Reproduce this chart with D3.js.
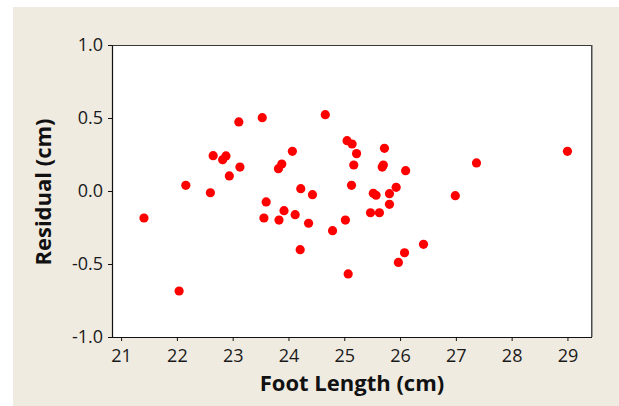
<!DOCTYPE html>
<html>
<head>
<meta charset="utf-8">
<script src="https://cdn.jsdelivr.net/npm/d3@7"></script>
<style>
  html, body { margin: 0; padding: 0; background: #ffffff; }
  svg { display: block; }
  .tick text { font-family: "Open Sans", sans-serif; font-size: 18px; fill: #1a1a1a; }
  .axis-title { font-family: "Open Sans", sans-serif; font-weight: 700; font-size: 22px; fill: #111; }
</style>
</head>
<body>
<svg id="chart" width="619" height="406"></svg>
<script>
// Foot length (cm) vs residual (cm)
const footLength = [
  21.41, 22.04, 22.16, 22.60, 22.65, 22.82, 22.88, 22.94, 23.11, 23.13,
  23.53, 23.56, 23.60, 23.82, 23.83, 23.88, 23.92, 24.07, 24.12, 24.21,
  24.22, 24.36, 24.43, 24.66, 24.79, 25.02, 25.05, 25.07, 25.13, 25.14,
  25.17, 25.22, 25.47, 25.52, 25.57, 25.63, 25.68, 25.70, 25.72, 25.81,
  25.81, 25.93, 25.97, 26.08, 26.10, 26.42, 26.99, 27.37, 29.00
];
const residual = [
  -0.185, -0.685, 0.039, -0.012, 0.242, 0.214, 0.240, 0.103, 0.473, 0.164,
  0.502, -0.185, -0.075, 0.153, -0.199, 0.185, -0.135, 0.272, -0.162, -0.402,
  0.016, -0.221, -0.025, 0.523, -0.272, -0.199, 0.345, -0.568, 0.039, 0.322,
  0.178, 0.256, -0.149, -0.016, -0.029, -0.149, 0.164, 0.178, 0.292, -0.018,
  -0.091, 0.025, -0.489, -0.423, 0.139, -0.365, -0.032, 0.192, 0.272
];
const xTicks = [21, 22, 23, 24, 25, 26, 27, 28, 29];
const yTicks = [-1.0, -0.5, 0.0, 0.5, 1.0];
const yTickLabels = ["-1.0", "-0.5", "0.0", "0.5", "1.0"];
const xLabel = "Foot Length (cm)";
const yLabel = "Residual (cm)";

const svg = d3.select("#chart");
const W = 619, H = 406;
const plot = { left: 112, right: 592, top: 45, bottom: 337 };

// panel background
svg.append("rect").attr("x", 13).attr("y", 7).attr("width", W - 13).attr("height", H - 7)
  .attr("fill", "#efebe1");

const x = d3.scaleLinear().domain([20.837, 29.44]).range([plot.left, plot.right]);
const y = d3.scaleLinear().domain([-1, 1]).range([plot.bottom, plot.top]);

// data region
svg.append("rect")
  .attr("x", plot.left).attr("y", plot.top)
  .attr("width", plot.right - plot.left).attr("height", plot.bottom - plot.top)
  .attr("fill", "#ffffff");
// frame: dark top, grey shadowed right edge
svg.append("line").attr("x1", plot.left).attr("x2", plot.right + 0.5)
  .attr("y1", plot.top + 0.5).attr("y2", plot.top + 0.5).attr("stroke", "#3a3a3a");
svg.append("line").attr("x1", plot.right - 0.5).attr("x2", plot.right - 0.5)
  .attr("y1", plot.top).attr("y2", plot.bottom).attr("stroke", "#4a4a4a");
svg.append("line").attr("x1", plot.right + 0.5).attr("x2", plot.right + 0.5)
  .attr("y1", plot.top).attr("y2", plot.bottom).attr("stroke", "#9a9a9a");

const xAxis = d3.axisBottom(x).tickValues(xTicks).tickFormat(d3.format("d"))
  .tickSize(4).tickPadding(8).tickSizeOuter(0);
const yAxis = d3.axisLeft(y).tickValues(yTicks)
  .tickFormat((d, i) => yTickLabels[i])
  .tickSize(4).tickPadding(5).tickSizeOuter(0);

const gx = svg.append("g").attr("transform", `translate(0,${plot.bottom})`).call(xAxis);
const gy = svg.append("g").attr("transform", `translate(${plot.left},0)`).call(yAxis);
[gx, gy].forEach(g => {
  g.select(".domain").attr("stroke", "#111").attr("stroke-width", 1.2);
  g.selectAll(".tick line").attr("stroke", "#111");
});
gx.select(".domain").attr("d", `M${plot.left - 4},0.5H${plot.right}`);

// points
svg.append("g").selectAll("circle")
  .data(footLength.map((v, i) => [v, residual[i]]))
  .join("circle")
  .attr("cx", d => x(d[0]))
  .attr("cy", d => y(d[1]))
  .attr("r", 4.6)
  .attr("fill", "#ff0000");

// axis titles
svg.append("text").attr("class", "axis-title")
  .attr("x", (plot.left + plot.right) / 2).attr("y", 391)
  .attr("text-anchor", "middle").text(xLabel);
svg.append("text").attr("class", "axis-title")
  .attr("transform", `translate(51,${(plot.top + plot.bottom) / 2 + 1}) rotate(-90)`)
  .attr("text-anchor", "middle").text(yLabel);
</script>
</body>
</html>
